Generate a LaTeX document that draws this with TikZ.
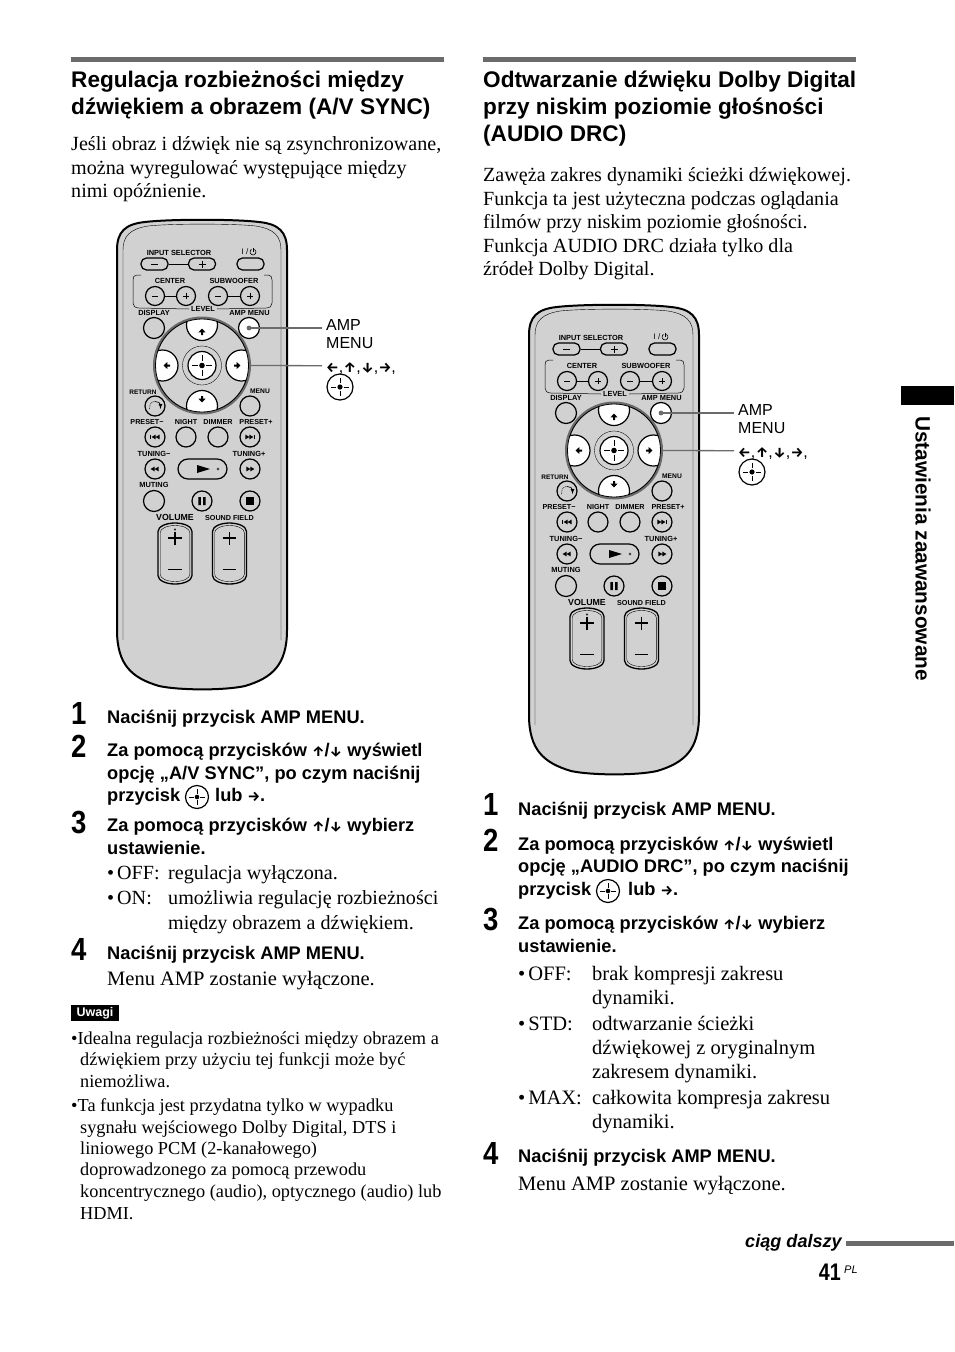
\documentclass[tikz,border=0pt]{standalone}
\usepackage{fontspec}
\setmainfont{Liberation Serif}
\setsansfont{Liberation Sans}
\newfontfamily\arrowfont{Fira Sans}

\newcommand{\headfont}{\fontsize{22.6}{27}\selectfont\sffamily\bfseries}
\newcommand{\bodyfont}{\fontsize{20.1}{24}\selectfont}
\newcommand{\listfont}{\fontsize{20.5}{24}\selectfont}
\newcommand{\notefont}{\fontsize{18.3}{21}\selectfont}
\newcommand{\stepfont}{\fontsize{18.25}{22}\selectfont\sffamily\bfseries}
\newcommand{\upar}{{\arrowfont\bfseries\fontsize{14}{14}\selectfont ↑}}
\newcommand{\downar}{{\arrowfont\bfseries\fontsize{14}{14}\selectfont ↓}}
\newcommand{\leftar}{{\arrowfont\bfseries\fontsize{14}{14}\selectfont ←}}
\newcommand{\rightar}{{\arrowfont\bfseries\fontsize{14}{14}\selectfont →}}
\newcommand{\stepnum}[1]{\scalebox{.86}[1]{\fontsize{32}{32}\selectfont\sffamily\bfseries #1}}

\definecolor{remotegray}{gray}{.82}
\definecolor{rulegray}{gray}{.42}

\tikzset{
    headline/.style={anchor=base west, inner sep=0pt, font=\headfont},
    bodyline/.style={anchor=base west, inner sep=0pt, font=\bodyfont},
    listline/.style={anchor=base west, inner sep=0pt, font=\listfont},
    noteline/.style={anchor=base west, inner sep=0pt, font=\notefont},
    stepline/.style={anchor=base west, inner sep=0pt, font=\stepfont},
    stepdigit/.style={anchor=base west, inner sep=0pt},
    keylabel/.style={inner sep=0pt, font=\fontsize{7.4}{8}\selectfont\sffamily\bfseries},
    biglabel/.style={inner sep=0pt, font=\fontsize{8.8}{9}\selectfont\sffamily\bfseries},
    calllabel/.style={anchor=base west, inner sep=0pt, font=\fontsize{16}{18}\selectfont\sffamily},
    keybtn/.style={circle, draw, line width=1.25pt, inner sep=0pt, minimum size=20pt},
    smallbtn/.style={keybtn, minimum size=19pt},
    pillbtn/.style={rectangle, rounded corners=5.5pt, draw, line width=1.25pt, inner sep=0pt, minimum width=27pt, minimum height=12pt},
    leader/.style={draw=rulegray, line width=1.3pt},
    pics/enterkey/.style={code={
        \draw[scale=#1, line width=1.2pt] (0,0) circle (1);
        \foreach \a in {0,90,180,270}
            \draw[scale=#1, rotate=\a, line width=1pt] (.3,0) -- (.72,0);
        \fill[scale=#1] (0,0) circle (.2);
    }},
    pics/padarrow/.style={code={
        \fill[rotate=#1] (-3.6,0.4) -- (0,-3.4) -- (3.6,0.4) -- (1,0.4) -- (1,3) -- (-1,3) -- (-1,0.4) -- cycle;
    }},
    pics/twotri/.style={code={
        \fill[xscale=#1] (-4.4,0) -- (-.4,-2.4) -- (-.4,2.4) -- cycle (-.4,0) -- (3.6,-2.4) -- (3.6,2.4) -- cycle;
    }},
    pics/rocker/.style={code={
        \draw[line width=1.3pt, fill=remotegray] (-17,-22) .. controls (-17,-27) and (-9,-30.5) .. (0,-30.5) .. controls (9,-30.5) and (17,-27) .. (17,-22) -- (17,22) .. controls (17,27) and (9,30.5) .. (0,30.5) .. controls (-9,30.5) and (-17,27) .. (-17,22) -- cycle;
        \draw[line width=.4pt] (-14.8,-21) .. controls (-14.8,-25) and (-8,-28) .. (0,-28) .. controls (8,-28) and (14.8,-25) .. (14.8,-21) -- (14.8,21) .. controls (14.8,25) and (8,28) .. (0,28) .. controls (-8,28) and (-14.8,25) .. (-14.8,21) -- cycle;
        \draw[line width=1.5pt] (-6.8,-15.5) -- (6.8,-15.5) (0,-22) -- (0,-9);
        \draw[line width=1.5pt] (-6.8,16) -- (6.8,16);
    }},
}

\newcommand{\remote}[3]{
\begin{scope}[shift={(#2,#3)}, name prefix=#1-]
    % body
    \draw[line width=2pt, fill=remotegray] (117,250) .. controls (117,232) and (125,224) .. (145,222) .. controls (170,219) and (235,219) .. (259,222) .. controls (279,224) and (287,232) .. (287,250) -- (287,630) .. controls (287,665) and (272,678) .. (245,686) .. controls (225,690.5) and (180,690.5) .. (159,686) .. controls (132,678) and (117,665) .. (117,630) -- cycle;
    \draw[line width=.4pt] (123,640) -- (123,250) .. controls (123,236) and (130,229) .. (148,226) .. controls (170,223.5) and (235,223.5) .. (256,226) .. controls (274,229) and (281,236) .. (281,250) -- (281,640);
    % top keys
    \node[keylabel] (inputlabel) at (179,252.5) {INPUT SELECTOR};
    \node[pillbtn] (inminus) at (154.5,264) {};
    \node[pillbtn] (inplus) at (202,264) {};
    \node[pillbtn] (power) at (250.5,264) {};
    \draw[line width=.5pt] (inminus) -- (inplus);
    \draw[line width=.8pt] (151,264) -- (158,264) (198.5,264) -- (205.5,264) (202,260.5) -- (202,267.5);
    \node[keylabel, font=\fontsize{8}{8}\selectfont\sffamily] (powerlabel) at (245,252) {I /};
    \draw[line width=.6pt] (254.5,249.4) arc (-60:240:3);
    \draw[line width=.6pt] (253,248) -- (253,252);
    % level bracket
    \draw[line width=.5pt] (141,275) -- (137,275) .. controls (134,275) and (133,277) .. (133,280) -- (133,303) .. controls (133,306) and (135,308) .. (139,308) -- (189,309);
    \draw[line width=.5pt] (264,275) -- (268,275) .. controls (271,275) and (272,277) .. (272,280) -- (272,303) .. controls (272,306) and (270,308) .. (266,308) -- (217,309);
    \node[keylabel] (centerlabel) at (170,281) {CENTER};
    \node[keylabel] (sublabel) at (234,281) {SUBWOOFER};
    \node[keylabel] (levellabel) at (203,309) {LEVEL};
    \foreach \n/\x in {cminus/155,cplus/186,sminus/218,splus/250}
        \node[smallbtn] (\n) at (\x,296) {};
    \draw[line width=.5pt] (cminus) -- (cplus);
    \draw[line width=.5pt] (sminus) -- (splus);
    \foreach \x in {155,186,218,250}
        \draw[line width=.8pt] (\x-3,296) -- (\x+3,296);
    \foreach \x in {186,250}
        \draw[line width=.8pt] (\x,293) -- (\x,299);
    % display row and pad
    \node[keylabel] (displabel) at (154,313) {DISPLAY};
    \node[keylabel] (amplabel) at (249.5,313) {AMP MENU};
    \node[keybtn, minimum size=21pt] (disp) at (154,328) {};
    \node[keybtn, minimum size=21pt, fill=white] (amp) at (249,328) {};
    \node[circle, draw=rulegray, line width=3pt, fill=remotegray, minimum size=95pt, inner sep=0pt] (dpad) at (202,365.5) {};
    \begin{scope}
        \clip (202,365.5) circle (46.5);
        \foreach \x/\y in {202/325,202/406,162.5/365.5,241.5/365.5}
            \draw[fill=white, line width=1.2pt] (\x,\y) circle (15.5);
    \end{scope}
    \draw[line width=.8pt] (202,365.5) circle (46.5);
    \draw[line width=.35pt] (202,365.5) circle (19.5);
    \node[circle, fill=white, minimum size=27pt, inner sep=0pt] (enter) at (202,365.5) {};
    \pic at (enter.center) {enterkey=14};
    \pic at (202,332) {padarrow=0};
    \pic at (202,399) {padarrow=180};
    \pic at (167,365.5) {padarrow=90};
    \pic at (237,365.5) {padarrow=-90};
    % return row
    \node[keylabel, font=\fontsize{6.5}{7}\selectfont\sffamily\bfseries] (returnlabel) at (143,392) {RETURN};
    \node[keylabel, font=\fontsize{6.7}{7}\selectfont\sffamily\bfseries] (menulabel) at (260,391) {MENU};
    \node[keybtn] (ret) at (155,406) {};
    \node[keybtn] (menu) at (250,406) {};
    \draw[line width=.7pt, densely dotted] (149.5,409) .. controls (149.5,403) and (152,401.5) .. (155,401.5);
    \draw[line width=.7pt, -latex] (155,401.5) .. controls (158,401.5) and (160.5,403) .. (160.5,409);
    % preset row
    \foreach \n/\t/\x in {pminus/{PRESET−}/147,night/NIGHT/186,dimmer/DIMMER/218,pplus/PRESET+/256}
        \node[keylabel, font=\fontsize{7.2}{8}\selectfont\sffamily\bfseries] (\n label) at (\x,422) {\t};
    \foreach \n/\x in {prev/155,nightbtn/186,dimbtn/218,next/250}
        \node[keybtn] (\n) at (\x,437) {};
    \pic at (156,437) {twotri=1};
    \pic at (249,437) {twotri=-1};
    \draw[line width=.8pt] (150.8,434.6) -- (150.8,439.4) (254.2,434.6) -- (254.2,439.4);
    % tuning row
    \node[keylabel] (tunelabel) at (154,454) {TUNING−};
    \node[keylabel] (tuneplabel) at (249,454) {TUNING+};
    \node[keybtn] (rew) at (155,469) {};
    \node[keybtn] (fwd) at (250,469) {};
    \node[rectangle, rounded corners=10pt, draw, line width=1.25pt, minimum width=49pt, minimum height=20pt, inner sep=0pt] (play) at (202.5,469) {};
    \pic at (155,469) {twotri=1};
    \pic at (250,469) {twotri=-1};
    \fill (197,465) -- (210,469) -- (197,473) -- cycle;
    \draw[line width=.35pt] (218,469) circle (1.1);
    % muting row
    \node[keylabel] (mutelabel) at (154,485) {MUTING};
    \node[keybtn, minimum size=21pt] (mute) at (154,501) {};
    \node[keybtn] (pause) at (202,501) {};
    \node[keybtn] (stop) at (250,501) {};
    \fill (198.4,497) rectangle (200.8,505) (203.2,497) rectangle (205.6,505);
    \fill (246.2,497.2) rectangle (253.8,504.8);
    % volume keys
    \node[biglabel] (vollabel) at (175,517.5) {VOLUME};
    \node[keylabel, font=\fontsize{7.2}{8}\selectfont\sffamily\bfseries] (fieldlabel) at (229.5,518) {SOUND FIELD};
    \pic at (175,553.5) {rocker};
    \pic at (229.5,553.5) {rocker};
    \draw[line width=.35pt] (175,529.5) circle (.9);
    % callouts
    \node[calllabel] (callamp) at (326,330) {AMP};
    \node[calllabel] (callmenu) at (326,348.5) {MENU};
    \node[calllabel] (callkeys) at (326,372) {\leftar,\hspace{.5pt}\upar,\hspace{.5pt}\downar,\hspace{.5pt}\rightar,};
    \pic at (340,387) {enterkey=13};
    \coordinate (ampend) at (322,328);
    \coordinate (padend) at (322,365.7);
    \draw[leader] (amp.center) -- (ampend);
    \draw[leader] (dpad.east) -- (padend);
    \fill[rulegray] (amp.center) circle (2.4);
\end{scope}
}

\begin{document}
\begin{tikzpicture}[x=1pt, y=-1pt]
    \useasboundingbox (0,0) rectangle (954,1352);
    \fill[white] (0,0) rectangle (954,1352);
    \fill[rulegray] (71,57) rectangle (444,62);
    \fill[rulegray] (483,57) rectangle (856,62);

    \foreach \x/\y/\txt in {71/87/{Regulacja rozbieżności między},
                            71/114/{dźwiękiem a obrazem (A/V SYNC)},
                            483/87/{Odtwarzanie dźwięku Dolby Digital},
                            483/114/{przy niskim poziomie głośności},
                            483/141/{(AUDIO DRC)}}
        \node[headline] (head\x-\y) at (\x,\y) {\txt};

    \foreach \x/\y/\txt in {71/150/{Jeśli obraz i dźwięk nie są zsynchronizowane,},
                            71/174/{można wyregulować występujące między},
                            71/197/{nimi opóźnienie.},
                            107/879/{•\hspace{3pt}OFF:},
                            168/879/{regulacja wyłączona.},
                            107/904/{•\hspace{3pt}ON:},
                            168/904/{umożliwia regulację rozbieżności},
                            168/929/{między obrazem a dźwiękiem.},
                            483/181/{Zawęża zakres dynamiki ścieżki dźwiękowej.},
                            483/205/{Funkcja ta jest użyteczna podczas oglądania},
                            483/228/{filmów przy niskim poziomie głośności.},
                            483/252/{Funkcja AUDIO DRC działa tylko dla},
                            483/275/{źródeł Dolby Digital.}}
        \node[bodyline] (body\x-\y) at (\x,\y) {\txt};

    \foreach \x/\y/\txt in {107/985/{Menu AMP zostanie wyłączone.},
                            518/980/{•\hspace{3pt}OFF:},
                            592/980/{brak kompresji zakresu},
                            592/1004/{dynamiki.},
                            518/1030/{•\hspace{3pt}STD:},
                            592/1030/{odtwarzanie ścieżki},
                            592/1054/{dźwiękowej z oryginalnym},
                            592/1078/{zakresem dynamiki.},
                            518/1104/{•\hspace{3pt}MAX:},
                            592/1104/{całkowita kompresja zakresu},
                            592/1128/{dynamiki.},
                            518/1190/{Menu AMP zostanie wyłączone.}}
        \node[listline] (list\x-\y) at (\x,\y) {\txt};

    \foreach \x/\y/\txt in {107/723/{Naciśnij przycisk AMP MENU.},
                            107/756/{Za pomocą przycisków \upar/\downar{} wyświetl},
                            107/779/{opcję „A/V SYNC”, po czym naciśnij},
                            107/801/{przycisk},
                            215/801/{lub \rightar.},
                            107/831/{Za pomocą przycisków \upar/\downar{} wybierz},
                            107/854/{ustawienie.},
                            107/959/{Naciśnij przycisk AMP MENU.},
                            518/815/{Naciśnij przycisk AMP MENU.},
                            518/850/{Za pomocą przycisków \upar/\downar{} wyświetl},
                            518/872/{opcję „AUDIO DRC”, po czym naciśnij},
                            518/895/{przycisk},
                            628/895/{lub \rightar.},
                            518/929/{Za pomocą przycisków \upar/\downar{} wybierz},
                            518/952/{ustawienie.},
                            518/1162/{Naciśnij przycisk AMP MENU.}}
        \node[stepline] (step\x-\y) at (\x,\y) {\txt};

    \pic at (197,797) {enterkey=11.5};
    \pic at (608,891) {enterkey=11.5};

    \foreach \x/\y/\n in {71/724/1,71/757/2,71/833/3,71/960/4,483/815/1,483/851/2,483/930/3,483/1164/4}
        \node[stepdigit] (num\x-\y) at (\x,\y) {\stepnum{\n}};

    % notes
    \node[fill=black, text=white, inner sep=0pt, minimum width=48pt, minimum height=16pt, font=\fontsize{12.5}{12}\selectfont\sffamily\bfseries] (notebox) at (95,1013) {Uwagi};
    \foreach \x/\y/\txt in {71/1044/{•Idealna regulacja rozbieżności między obrazem a},
                            80/1065/{dźwiękiem przy użyciu tej funkcji może być},
                            80/1087/{niemożliwa.},
                            71/1111/{•Ta funkcja jest przydatna tylko w wypadku},
                            80/1133/{sygnału wejściowego Dolby Digital, DTS i},
                            80/1154/{liniowego PCM (2-kanałowego)},
                            80/1175/{doprowadzonego za pomocą przewodu},
                            80/1197/{koncentrycznego (audio), optycznego (audio) lub},
                            80/1219/{HDMI.}}
        \node[noteline] (note\x-\y) at (\x,\y) {\txt};

    \remote{one}{0}{0}
    \remote{two}{412}{85}

    % page furniture
    \fill[black] (901,386) rectangle (954,405);
    \node[inner sep=0pt, rotate=-90, anchor=north west, font=\fontsize{20.8}{20}\selectfont\sffamily\bfseries] (tabtext) at (931,416) {Ustawienia zaawansowane};
    \node[anchor=base east, inner sep=0pt, font=\fontsize{18.1}{18}\selectfont\sffamily\bfseries\itshape] (cont) at (842,1247) {ciąg dalszy};
    \fill[rulegray] (846,1241) rectangle (954,1246);
    \node[anchor=base east, inner sep=0pt] (pagenum) at (841,1280) {\scalebox{.82}[1]{\fontsize{24}{24}\selectfont\sffamily\bfseries 41}};
    \node[anchor=base west, inner sep=0pt, font=\fontsize{11}{11}\selectfont\sffamily\itshape] (pagelang) at (844,1273) {PL};
\end{tikzpicture}
\end{document}
